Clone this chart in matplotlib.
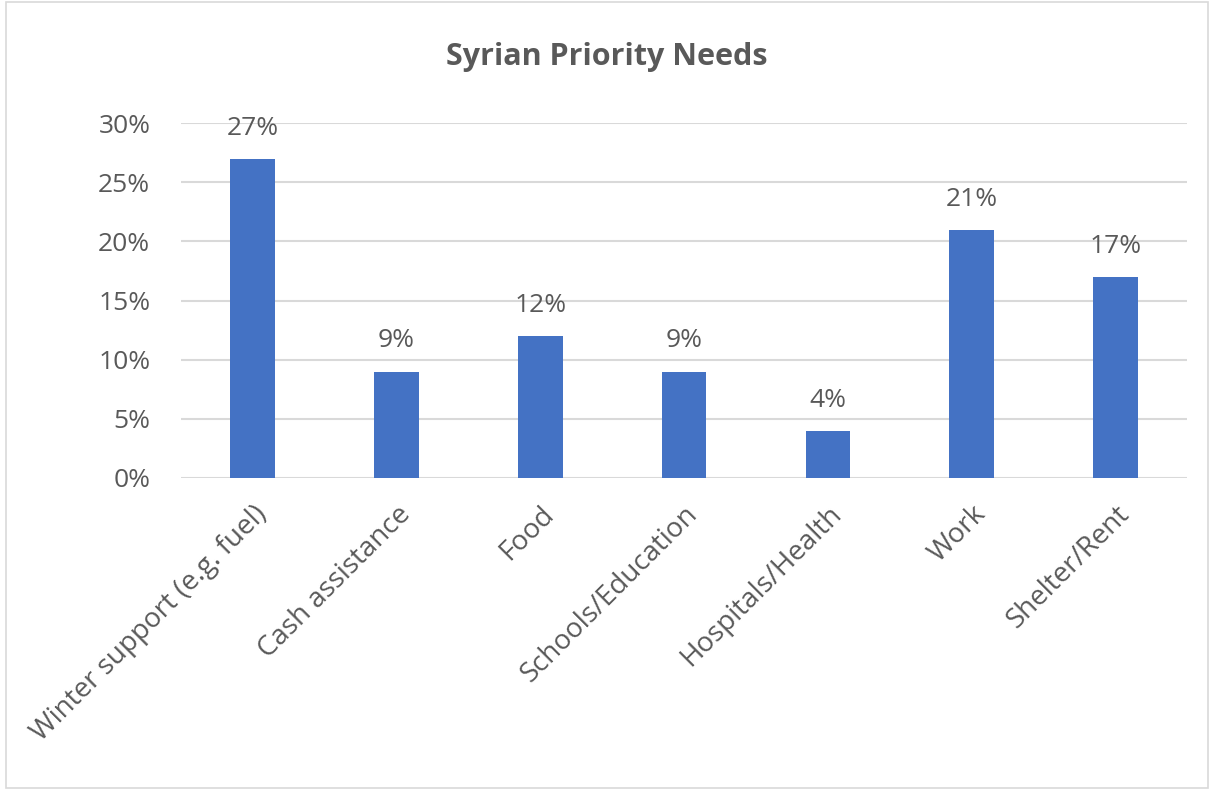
import matplotlib.pyplot as plt
from matplotlib.patches import Rectangle
from matplotlib.ticker import PercentFormatter

# chart data
categories = ['Winter support (e.g. fuel)', 'Cash assistance', 'Food',
              'Schools/Education', 'Hospitals/Health', 'Work', 'Shelter/Rent']
shares = [0.27, 0.09, 0.12, 0.09, 0.04, 0.21, 0.17]
value_labels = ['27%', '9%', '12%', '9%', '4%', '21%', '17%']
y_ticks = [0.0, 0.05, 0.10, 0.15, 0.20, 0.25, 0.30]

bar_color = '#4472C4'
text_color = '#595959'
grid_color = '#D9D9D9'

plt.rcParams['font.family'] = ['Open Sans', 'DejaVu Sans']

fig = plt.figure(figsize=(12.14, 7.9), dpi=100)
ax = fig.add_axes([0.149, 0.395, 0.829, 0.449])

x = range(len(categories))
ax.bar(x, shares, width=0.31, color=bar_color, zorder=3)

for i, (v, lab) in enumerate(zip(shares, value_labels)):
    ax.annotate(lab, (i, v), xytext=(0, 13), textcoords='offset points',
                ha='center', va='bottom', fontsize=19, color=text_color)

ax.set_xlim(-0.5, len(categories) - 0.5)
ax.set_ylim(0, 0.30)
ax.set_yticks(y_ticks)
ax.yaxis.set_major_formatter(PercentFormatter(1.0, decimals=0))
ax.set_xticks(list(x))
ax.set_xticklabels(categories, rotation=45, ha='right', rotation_mode='anchor')

ax.tick_params(axis='both', length=0, labelcolor=text_color)
ax.tick_params(axis='y', labelsize=19, pad=22)
ax.tick_params(axis='x', labelsize=20, pad=16)
ax.grid(axis='y', color=grid_color, linewidth=1.5, zorder=0)
for s in ax.spines.values():
    s.set_visible(False)

fig.text(0.5, 0.928, 'Syrian Priority Needs', ha='center', va='center',
         fontsize=22, fontweight='bold', color=text_color)

# light frame around the chart area
fig.patches.append(Rectangle((0.005, 0.002), 0.99, 0.996, transform=fig.transFigure,
                             fill=False, edgecolor='#D9D9D9', linewidth=1.2))

fig.savefig('out.png', dpi=100, facecolor='white')
